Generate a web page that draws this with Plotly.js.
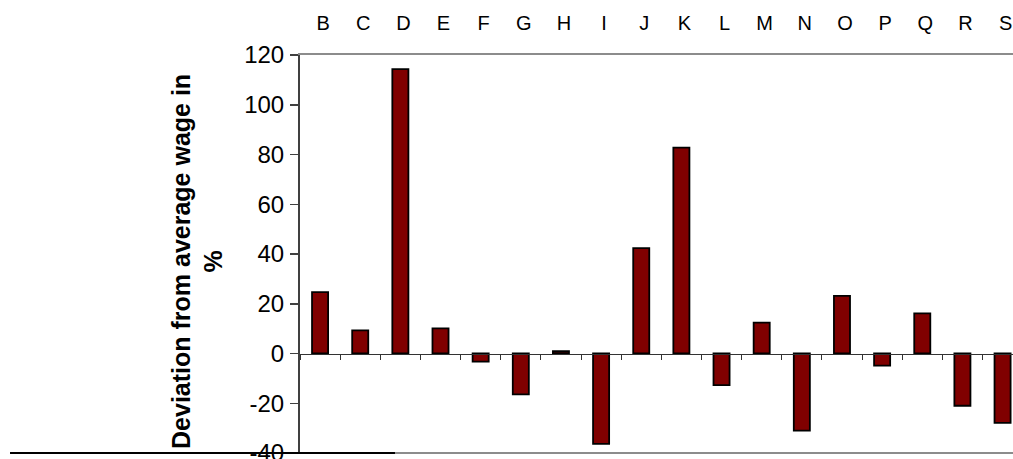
<!DOCTYPE html>
<html>
<head>
<meta charset="utf-8">
<script src="https://cdn.plot.ly/plotly-3.0.1.min.js"></script>
<style>html,body{margin:0;padding:0;background:#fff;}#chart{width:1013px;height:459px;}</style>
</head>
<body>
<div id="chart"></div>
<script>
const categories = ["B","C","D","E","F","G","H","I","J","K","L","M","N","O","P","Q","R","S"];
const deviation = [24.7, 9.3, 114.3, 10.1, -3.3, -16.4, 0.9, -36.3, 42.4, 82.8, -12.7, 12.4, -31.0, 23.2, -4.9, 16.1, -21.0, -27.9];
const yTicks = [-40, -20, 0, 20, 40, 60, 80, 100, 120];
const yTickLabels = ["-40", "-20", "0", "20", "40", "60", "80", "100", "120"];
const yTitle = "Deviation from average wage in<br>%";

const FONT = "Liberation Sans, Arial, sans-serif";
const xRange = [-0.5, 17.26];

const traces = [
  {
    type: "bar",
    x: categories,
    y: deviation,
    xaxis: "x",
    yaxis: "y",
    marker: { color: "#800000", line: { color: "#000000", width: 1.8 } },
    hoverinfo: "x+y",
    showlegend: false
  },
  {
    type: "scatter",
    mode: "none",
    x: categories,
    y: deviation,
    xaxis: "x2",
    yaxis: "y",
    hoverinfo: "skip",
    showlegend: false
  }
];

const layout = {
  width: 1013,
  height: 459,
  margin: { l: 300, r: 0, t: 55, b: 6, pad: 0 },
  paper_bgcolor: "#ffffff",
  plot_bgcolor: "#ffffff",
  font: { family: FONT, color: "#000000" },
  bargap: 0.6,
  showlegend: false,
  xaxis: {
    type: "category",
    categoryarray: categories,
    range: xRange,
    anchor: "free",
    position: 0.25,
    showline: true,
    linecolor: "#333333",
    linewidth: 1.5,
    ticks: "outside",
    tickson: "boundaries",
    ticklen: 5,
    tickcolor: "#333333",
    tickwidth: 1,
    showticklabels: false,
    showgrid: false,
    zeroline: false,
    fixedrange: true
  },
  xaxis2: {
    type: "category",
    categoryarray: categories,
    overlaying: "x",
    matches: "x",
    range: xRange,
    side: "top",
    anchor: "y",
    showline: true,
    linecolor: "#8c8c8c",
    linewidth: 2,
    ticks: "",
    ticklabelstandoff: 15,
    ticklabelshift: 3,
    tickfont: { family: FONT, size: 20, color: "#000000" },
    showgrid: false,
    zeroline: false,
    fixedrange: true
  },
  yaxis: {
    range: [-40, 120],
    tickvals: yTicks,
    ticktext: yTickLabels,
    ticks: "outside",
    ticklen: 8,
    tickcolor: "#404040",
    tickwidth: 1.5,
    ticklabeloverflow: "allow",
    ticklabelstandoff: 1,
    showline: true,
    linecolor: "#404040",
    linewidth: 2,
    showgrid: false,
    zeroline: false,
    tickfont: { family: FONT, size: 24, color: "#000000" },
    fixedrange: true
  },
  annotations: [
    {
      text: yTitle,
      xref: "paper", yref: "paper",
      x: -0.1445, y: 0.4824,
      xanchor: "center", yanchor: "middle",
      textangle: -90,
      showarrow: false,
      align: "center",
      font: { family: FONT, size: 25, color: "#000000", weight: "bold" }
    }
  ],
  shapes: [
    { type: "line", xref: "paper", yref: "paper", x0: 0, x1: 1, y0: 0, y1: 0,
      line: { color: "#8c8c8c", width: 2 }, layer: "above" },
    { type: "line", xref: "paper", yref: "paper", x0: -0.4067, x1: 0.1332, y0: 0, y1: 0,
      line: { color: "#000000", width: 2 }, layer: "above" }
  ]
};

Plotly.newPlot("chart", traces, layout, { displayModeBar: false, staticPlot: true });
</script>
</body>
</html>
